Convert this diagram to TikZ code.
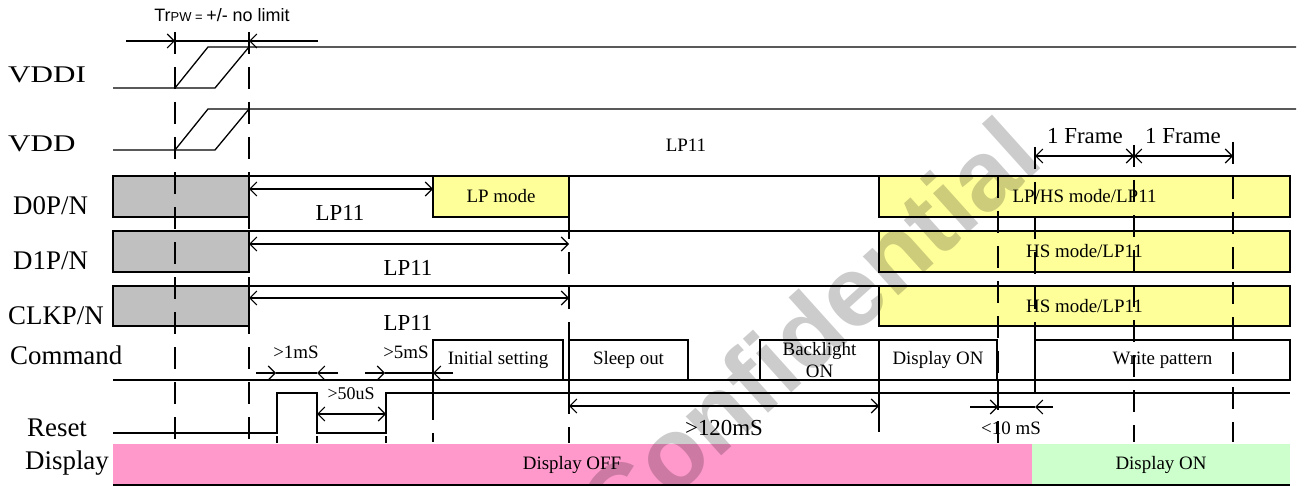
\documentclass[tikz,border=0pt]{standalone}
\usepackage{fontspec}
\setmainfont{Liberation Serif}
\newfontfamily\arialfont{Liberation Sans}
\newfontfamily\widerm[FakeStretch=1.3]{Liberation Serif}
\usetikzlibrary{arrows.meta}
\definecolor{lanegray}{RGB}{192,192,192}
\definecolor{lpyellow}{RGB}{255,255,153}
\definecolor{offpink}{RGB}{255,153,204}
\definecolor{ongreen}{RGB}{204,255,204}

\begin{document}
\begin{tikzpicture}[
  x=1bp, y=-1bp,
  every node/.style={inner sep=0pt},
  sig/.style={line width=1.3bp},
  guide/.style={line width=1.1bp,dash pattern=on 22bp off 13bp},
  dim/.style={line width=1.1bp},
  dimarr/.style={-{Straight Barb[length=7bp,width=14bp]},line width=1.1bp},
  dimboth/.style={{Straight Barb[length=7bp,width=14bp]}-{Straight Barb[length=7bp,width=14bp]},line width=1.1bp},
  rowlabel/.style={font=\fontsize{27}{27}\selectfont,anchor=base west},
  lanebox/.style={draw,line width=1.3bp,minimum height=41bp},
  cmdbox/.style={draw,line width=1.3bp,minimum height=40bp,font=\fontsize{19}{22}\selectfont,align=center},
  lanetext/.style={font=\fontsize{19}{19}\selectfont},
  lplabel/.style={font=\fontsize{23}{23}\selectfont,anchor=base},
  timelabel/.style={font=\fontsize{19}{19}\selectfont,anchor=base},
]
  \useasboundingbox (0,0) rectangle (1304,486);

  % Row labels
  \node[rowlabel,font=\widerm\fontsize{24}{24}\selectfont] (lvddi) at (8,83) {VDDI};
  \node[rowlabel,font=\widerm\fontsize{24}{24}\selectfont] (lvdd) at (8,152) {VDD};
  \node[rowlabel] (ld0) at (13,215) {D0P/N};
  \node[rowlabel] (ld1) at (13,269) {D1P/N};
  \node[rowlabel] (lclk) at (8,324) {CLKP/N};
  \node[rowlabel] (lcmd) at (10,364) {Command};
  \node[rowlabel] (lrst) at (27,436) {Reset};
  \node[rowlabel] (ldisp) at (25,469) {Display};

  % Power ramps
  \draw[sig] (113,88) -- (215,88) -- (249,47);
  \draw[sig] (175,88) -- (208,47) -- (1296,47);
  \draw[sig] (113,150) -- (215,150) -- (249,109);
  \draw[sig] (175,150) -- (208,109) -- (1296,109);

  % Tr PW
  \node[font=\arialfont\fontsize{18}{18}\selectfont,anchor=base] (trpw) at (222,22)
    {Tr{\fontsize{13}{13}\selectfont PW = }+/- no limit};
  \draw[dim] (175,41) -- (249,41);
  \draw[dimarr] (126,41) -- (175,41);
  \draw[dimarr] (318,41) -- (249,41);

  % Lanes: top lines (LP11)
  \draw[sig] (249,176) -- (879,176);
  \draw[sig] (113,231) -- (879,231);
  \draw[sig] (113,286) -- (879,286);

  % Lane boxes
  \node[lanebox,fill=lanegray,minimum width=136bp] (g0) at (181,196.5) {};
  \node[lanebox,fill=lanegray,minimum width=136bp] (g1) at (181,251.5) {};
  \node[lanebox,fill=lanegray,minimum width=136bp,minimum height=40bp] (g2) at (181,306) {};
  \node[lanebox,fill=lpyellow,minimum width=136bp,lanetext] (lp0) at (501,196.5) {LP mode};
  \node[lanebox,fill=lpyellow,minimum width=411bp,lanetext] (hs0) at (1084.5,196.5) {LP/HS mode/LP11};
  \node[lanebox,fill=lpyellow,minimum width=411bp,lanetext] (hs1) at (1084.5,251.5) {HS mode/LP11};
  \node[lanebox,fill=lpyellow,minimum width=411bp,minimum height=40bp,lanetext] (hs2) at (1084.5,306) {HS mode/LP11};

  % LP11 spans
  \draw[dimboth] (249,189) -- (433,189);
  \draw[dimboth] (249,244) -- (569,244);
  \draw[dimboth] (249,298) -- (569,298);
  \node[lplabel] (lp11a) at (340,221) {LP11};
  \node[lplabel] (lp11b) at (408,275) {LP11};
  \node[lplabel] (lp11c) at (408,330) {LP11};
  \node[lanetext,anchor=base] (lp11m) at (686,152) {LP11};

  % Command lane
  \draw[sig] (113,380) -- (1290,380);
  \node[cmdbox,minimum width=130bp] (init) at (498,360) {Initial setting};
  \node[cmdbox,minimum width=119bp] (slp) at (628.5,360) {Sleep out};
  \node[cmdbox,minimum width=119bp] (blt) at (819.5,360) {Backlight\\ON};
  \node[cmdbox,minimum width=118bp] (don) at (938,360) {Display ON};
  \node[cmdbox,minimum width=255bp] (wrp) at (1162.5,360) {Write pattern};

  % Reset
  \draw[sig] (113,433) -- (277,433) -- (277,393) -- (317,393) -- (317,433)
    -- (386,433) -- (386,393) -- (1290,393);

  % Display state
  \fill[offpink] (113,444) rectangle (1032,485);
  \fill[ongreen] (1032,444) rectangle (1290,485);
  \draw[sig] (113,485) -- (1290,485);
  \node[lanetext,anchor=base] (doff) at (572,469) {Display OFF};
  \node[lanetext,anchor=base] (dong) at (1161,469) {Display ON};

  % Guide lines
  \draw[guide] (175,32) -- (175,440);
  \draw[guide] (249,32) -- (249,440);
  \draw[guide] (433,398) -- (433,442);
  \draw[guide] (569,217) -- (569,443);
  \draw[guide] (879,410) -- (879,445);
  \draw[guide] (998,176) -- (998,445);
  \draw[guide] (1035,147) -- (1035,340);
  \draw[guide] (1134,145) -- (1134,442);
  \draw[guide] (1233,142) -- (1233,442);
  \draw[guide] (277,436) -- (277,443);
  \draw[guide] (317,436) -- (317,443);
  \draw[guide] (386,436) -- (386,443);
  \draw[sig] (433,380) -- (433,398);
  \draw[sig] (569,380) -- (569,410);
  \draw[sig] (879,380) -- (879,410);
  \draw[sig] (998,380) -- (998,410);
  \draw[sig] (1035,380) -- (1035,392);

  % Timing
  \draw[dim] (276,373) -- (317,373);
  \draw[dimarr] (256,373) -- (276,373);
  \draw[dimarr] (338,373) -- (317,373);
  \node[timelabel] (t1ms) at (296,358) {>1mS};
  \draw[dim] (385,373) -- (433,373);
  \draw[dimarr] (365,373) -- (385,373);
  \draw[dimarr] (453,373) -- (433,373);
  \node[timelabel] (t5ms) at (406,358) {>5mS};
  \draw[dimboth] (317,414) -- (386,414);
  \node[timelabel,font=\fontsize{18}{18}\selectfont] (t50us) at (351,399) {>50uS};
  \draw[dimboth] (569,406) -- (879,406);
  \node[timelabel,font=\fontsize{23}{23}\selectfont] (t120) at (724,435) {>120mS};
  \draw[dim] (998,407) -- (1035,407);
  \draw[dimarr] (970,407) -- (998,407);
  \draw[dimarr] (1053,407) -- (1035,407);
  \node[timelabel] (t10ms) at (1011,434) {<10 mS};

  % Frames
  \draw[dimboth] (1035,156) -- (1134,156);
  \draw[dimboth] (1134,156) -- (1233,156);
  \node[lplabel] (fr1) at (1085,144) {1 Frame};
  \node[lplabel] (fr2) at (1183,144) {1 Frame};

  % Watermark
  \node[font=\arialfont\bfseries\fontsize{100}{100}\selectfont,text=black,opacity=0.2,rotate=42]
    (wm) at (808,330) {Confidential};
\end{tikzpicture}
\end{document}
